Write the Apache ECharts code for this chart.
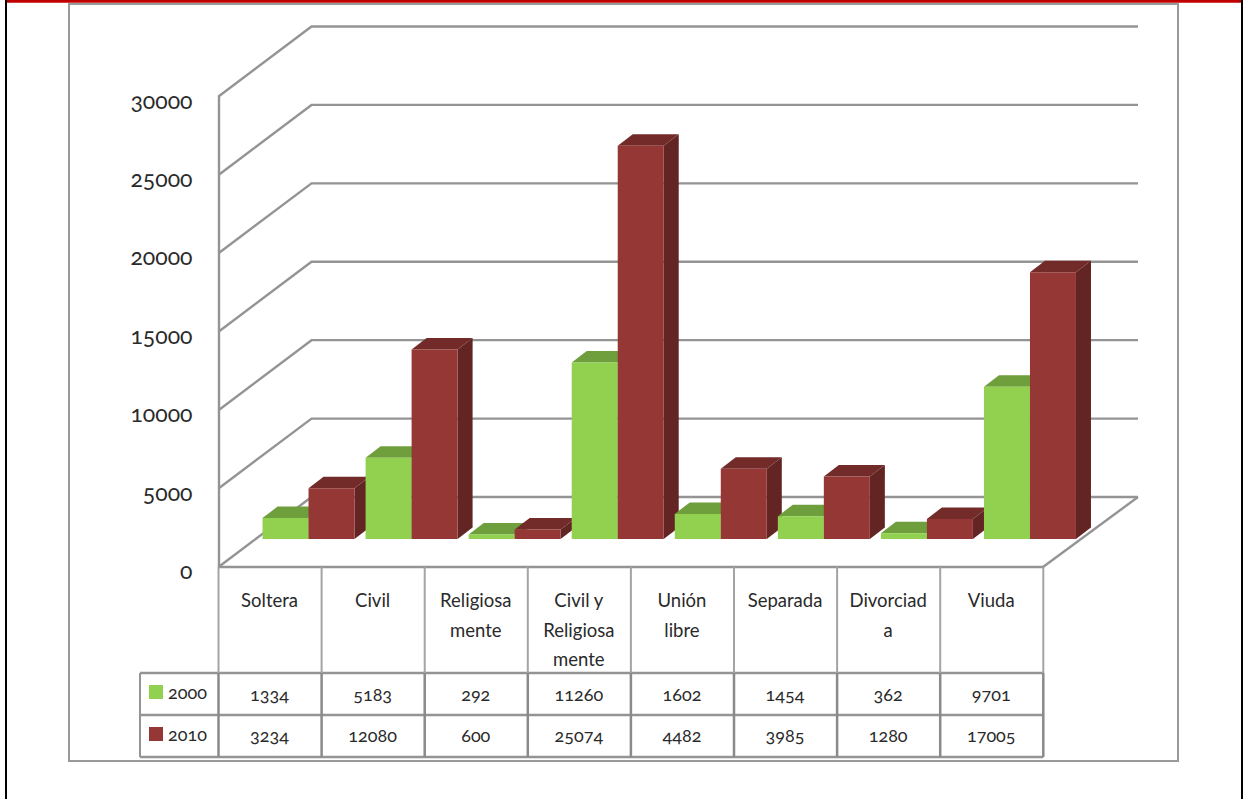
<!DOCTYPE html>
<html><head><meta charset="utf-8">
<style>
html,body{margin:0;padding:0;background:#fff}
#c{width:1243px;height:799px}
svg text{font-variant-numeric:oldstyle-nums !important;font-feature-settings:"onum" 1 !important}
</style>
<script src="https://cdn.jsdelivr.net/npm/echarts@6/dist/echarts.min.js"></script>
</head><body><div id="c"></div>
<script>
const categories = ['Soltera','Civil','Religiosa\nmente','Civil y\nReligiosa\nmente','Unión\nlibre','Separada','Divorciad\na','Viuda'];
const seriesNames = ['2000','2010'];
const values2000 = [1334,5183,292,11260,1602,1454,362,9701];
const values2010 = [3234,12080,600,25074,4482,3985,1280,17005];
const yTicks = [0,5000,10000,15000,20000,25000,30000];

const FONT = 'Lato';
const LINE = '#949494', TEXT = '#2a2a2a';
const COL = [{front:'#92d050',top:'#6f9e3c',side:'#5e8633'},{front:'#953735',top:'#722b29',side:'#632523'}];
const G = {left:218.5,right:1043,top:96.5,bottom:567};
const BACK = {dx:93,dy:-70}, MID = {dx:38.5,dy:-28}, BAR = {w:46,dx:15,dy:-11.5};

function barRender(idx){
  return function(params,api){
    const c = api.value(0), v = api.value(1);
    const t = api.coord([c,v]), b = api.coord([c,0]);
    const x0 = t[0]+MID.dx+(idx-1)*BAR.w, x1 = x0+BAR.w;
    const yT = t[1]+MID.dy, yB = b[1]+MID.dy;
    const z2 = c*10+idx*2;
    return {type:'group',children:[
      {type:'polygon',z2:z2,shape:{points:[[x1,yT],[x1+BAR.dx,yT+BAR.dy],[x1+BAR.dx,yB+BAR.dy],[x1,yB]]},style:{fill:COL[idx].side}},
      {type:'polygon',z2:z2,shape:{points:[[x0,yT],[x0+BAR.dx,yT+BAR.dy],[x1+BAR.dx,yT+BAR.dy],[x1,yT]]},style:{fill:COL[idx].top}},
      {type:'rect',z2:z2+1,shape:{x:x0,y:yT,width:BAR.w,height:yB-yT},style:{fill:COL[idx].front}}
    ]};
  };
}
function wallRender(params,api){
  const p = api.coord([0,api.value(0)]);
  const xL = G.left, y = p[1];
  const kids = [{type:'polyline',shape:{points:[[xL,y],[xL+BACK.dx,y+BACK.dy],[G.right+BACK.dx+2,y+BACK.dy]]},style:{stroke:LINE,lineWidth:2.4,fill:'none'}}];
  if(api.value(0)===0){
    kids.push({type:'line',shape:{x1:G.right,y1:y,x2:G.right+BACK.dx+2,y2:y+BACK.dy},style:{stroke:LINE,lineWidth:2.4}});
  }
  return {type:'group',children:kids};
}

const TBL = {left:140,x0:218.5,cw:103.1,yTop:567,r1:673,r2:715,r3:757};
const g = [];
g.push({type:'rect',shape:{x:69,y:4,width:1109,height:757},style:{fill:'none',stroke:'#999',lineWidth:2},z:0});
g.push({type:'rect',shape:{x:7,y:0,width:1234,height:2.7},style:{fill:'#c00000'},z:0});
g.push({type:'rect',shape:{x:5,y:0,width:2,height:799},style:{fill:'#000'},z:0});
g.push({type:'rect',shape:{x:1241,y:0,width:2,height:799},style:{fill:'#000'},z:0});
function hl(x1,x2,y,w,c){g.push({type:'line',shape:{x1,y1:y,x2,y2:y},style:{stroke:c||LINE,lineWidth:w||2},z:1});}
function vl(x,y1,y2,w,c){g.push({type:'line',shape:{x1:x,y1,x2:x,y2},style:{stroke:c||LINE,lineWidth:w||2},z:1});}
const xEnd = TBL.x0+TBL.cw*categories.length;
hl(TBL.x0,xEnd,TBL.yTop,2.5);
[TBL.r1,TBL.r2,TBL.r3].forEach(y=>hl(TBL.left,xEnd,y,2.3));
vl(TBL.left,TBL.r1,TBL.r3,2);
for(let i=0;i<=categories.length;i++){
  const x = TBL.x0+TBL.cw*i;
  vl(x,TBL.yTop,TBL.r1,2,'#a4a4a4');
  vl(x,TBL.r1,TBL.r3,2.5,'#8a8a8a');
}
categories.forEach((name,i)=>{
  const cx = TBL.x0+TBL.cw*i+TBL.cw/2-.5;
  g.push({type:'text',x:cx,y:585.5,z:2,style:{text:name,fontFamily:FONT,fontSize:18.5,lineHeight:29.5,fill:TEXT,align:'center',verticalAlign:'top'}});
  g.push({type:'text',x:cx,y:693.5,z:2,style:{text:String(values2000[i]),fontFamily:FONT,fontSize:18,fill:TEXT,align:'center',verticalAlign:'middle'}});
  g.push({type:'text',x:cx,y:734.5,z:2,style:{text:String(values2010[i]),fontFamily:FONT,fontSize:18,fill:TEXT,align:'center',verticalAlign:'middle'}});
});

const chart = echarts.init(document.getElementById('c'),null,{renderer:'svg',width:1243,height:799});
chart.setOption({
  animation:false,
  backgroundColor:'#fff',
  textStyle:{fontFamily:FONT},
  grid:{left:G.left,top:G.top,width:G.right-G.left,height:G.bottom-G.top,containLabel:false},
  legend:{left:144,top:678,orient:'vertical',itemWidth:14,itemHeight:14,itemGap:24,icon:'rect',selectedMode:false,
    textStyle:{fontFamily:FONT,fontSize:18,color:TEXT,padding:[0,0,6,0]},data:seriesNames},
  xAxis:{type:'category',data:categories,axisLine:{show:false},axisTick:{show:false},axisLabel:{show:false},splitLine:{show:false}},
  yAxis:{type:'value',min:0,max:30000,interval:5000,
    axisLine:{show:true,lineStyle:{color:LINE,width:2.4}},axisTick:{show:false},splitLine:{show:false},
    axisLabel:{margin:26,fontFamily:FONT,fontSize:23,color:TEXT,verticalAlign:'top',lineHeight:6,formatter:v=>String(v)}},
  graphic:{elements:g},
  series:[
    {type:'custom',name:'walls',coordinateSystem:'cartesian2d',encode:{x:1,y:0},data:yTicks.map(v=>[v,0]),renderItem:wallRender,silent:true,z:1,legendHoverLink:false},
    {type:'custom',name:seriesNames[0],itemStyle:{color:COL[0].front},encode:{x:0,y:1},data:values2000.map((v,i)=>[i,v]),renderItem:barRender(0),z:3},
    {type:'custom',name:seriesNames[1],itemStyle:{color:COL[1].front},encode:{x:0,y:1},data:values2010.map((v,i)=>[i,v]),renderItem:barRender(1),z:3}
  ]
});
</script></body></html>
